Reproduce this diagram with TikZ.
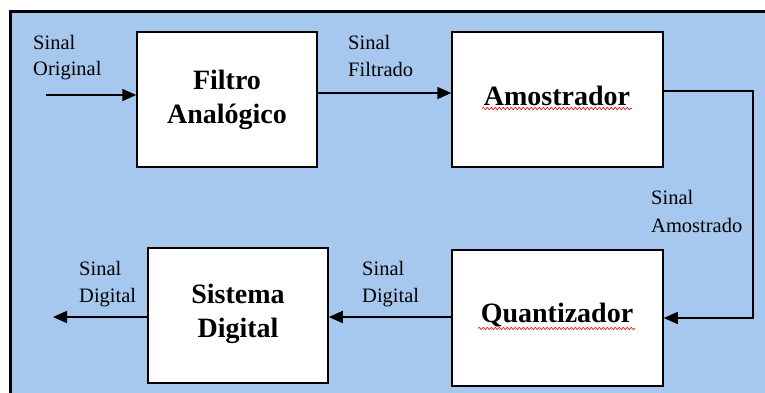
\documentclass[tikz,border=0pt]{standalone}
\usepackage{fontspec}
\setmainfont{Liberation Serif}
\usetikzlibrary{arrows.meta,decorations.pathmorphing}
\definecolor{bgblue}{RGB}{166,200,238}
\begin{document}
\begin{tikzpicture}[x=1pt,y=-1pt,
  box/.style={draw=black, line width=1.5pt, fill=white, inner sep=0pt},
  boxtxt/.style={font=\fontsize{28}{34}\selectfont\bfseries, align=center, inner sep=0pt, anchor=base},
  lbl/.style={font=\fontsize{20.5}{26}\selectfont, inner sep=0pt, anchor=base west},
  arr/.style={line width=1.6pt, -{Triangle[length=14pt,width=12pt]}},
  wavy/.style={draw=red, line width=0.6pt, decorate, decoration={snake, amplitude=1.2pt, segment length=4pt}}]
\useasboundingbox (0,0) rectangle (765,392);
\begin{scope}
\clip (0,0) rectangle (765,392);
\fill[bgblue] (10.7,11.3) rectangle (800,420);
\draw[line width=2.8pt] (10.7,800) -- (10.7,11.3) -- (800,11.3);
\end{scope}
% boxes
\node[box, minimum width=180pt, minimum height=135pt] (filt) at (227,99.5) {};
\node[box, minimum width=211pt, minimum height=135pt] (amo) at (557.5,99.5) {};
\node[box, minimum width=180pt, minimum height=135pt] (sis) at (238,315.5) {};
\node[box, minimum width=211pt, minimum height=136pt] (quant) at (557.5,318) {};
% box texts (base = baseline of the last line)
\node[boxtxt] (filtT) at (227,123) {Filtro\\Analógico};
\node[boxtxt] (amoT) at (557,105) {Amostrador};
\node[boxtxt] (quantT) at (557,322) {Quantizador};
\node[boxtxt] (sisT) at (238,337) {Sistema\\Digital};
% spell-check underlines
\draw[wavy] (482,108.5) -- (632,108.5);
\draw[wavy] (478,328.5) -- (635,328.5);
% labels
\node[lbl] (l1a) at (33,49) {Sinal};
\node[lbl] (l1b) at (33,75) {Original};
\node[lbl] (l2a) at (348,49) {Sinal};
\node[lbl] (l2b) at (348,76) {Filtrado};
\node[lbl] (l3a) at (651,204) {Sinal};
\node[lbl] (l3b) at (651,232) {Amostrado};
\node[lbl] (l4a) at (362,275) {Sinal};
\node[lbl] (l4b) at (362,302) {Digital};
\node[lbl] (l5a) at (79,275) {Sinal};
\node[lbl] (l5b) at (79,302) {Digital};
% connectors
\coordinate (in) at (46,95);
\draw[arr] (in) -- (in -| filt.west);
\coordinate (c1) at (0,93);
\draw[arr] (filt.east |- c1) -- (amo.west |- c1);
\coordinate (c2) at (753,91);
\coordinate (c3) at (753,318);
\draw[arr] (amo.east |- c2) -- (c2) -- (c3) -- (quant.east |- c3);
\coordinate (c4) at (0,317);
\draw[arr] (quant.west |- c4) -- (sis.east |- c4);
\coordinate (out) at (53,317);
\draw[arr] (sis.west |- out) -- (out);
\end{tikzpicture}
\end{document}
